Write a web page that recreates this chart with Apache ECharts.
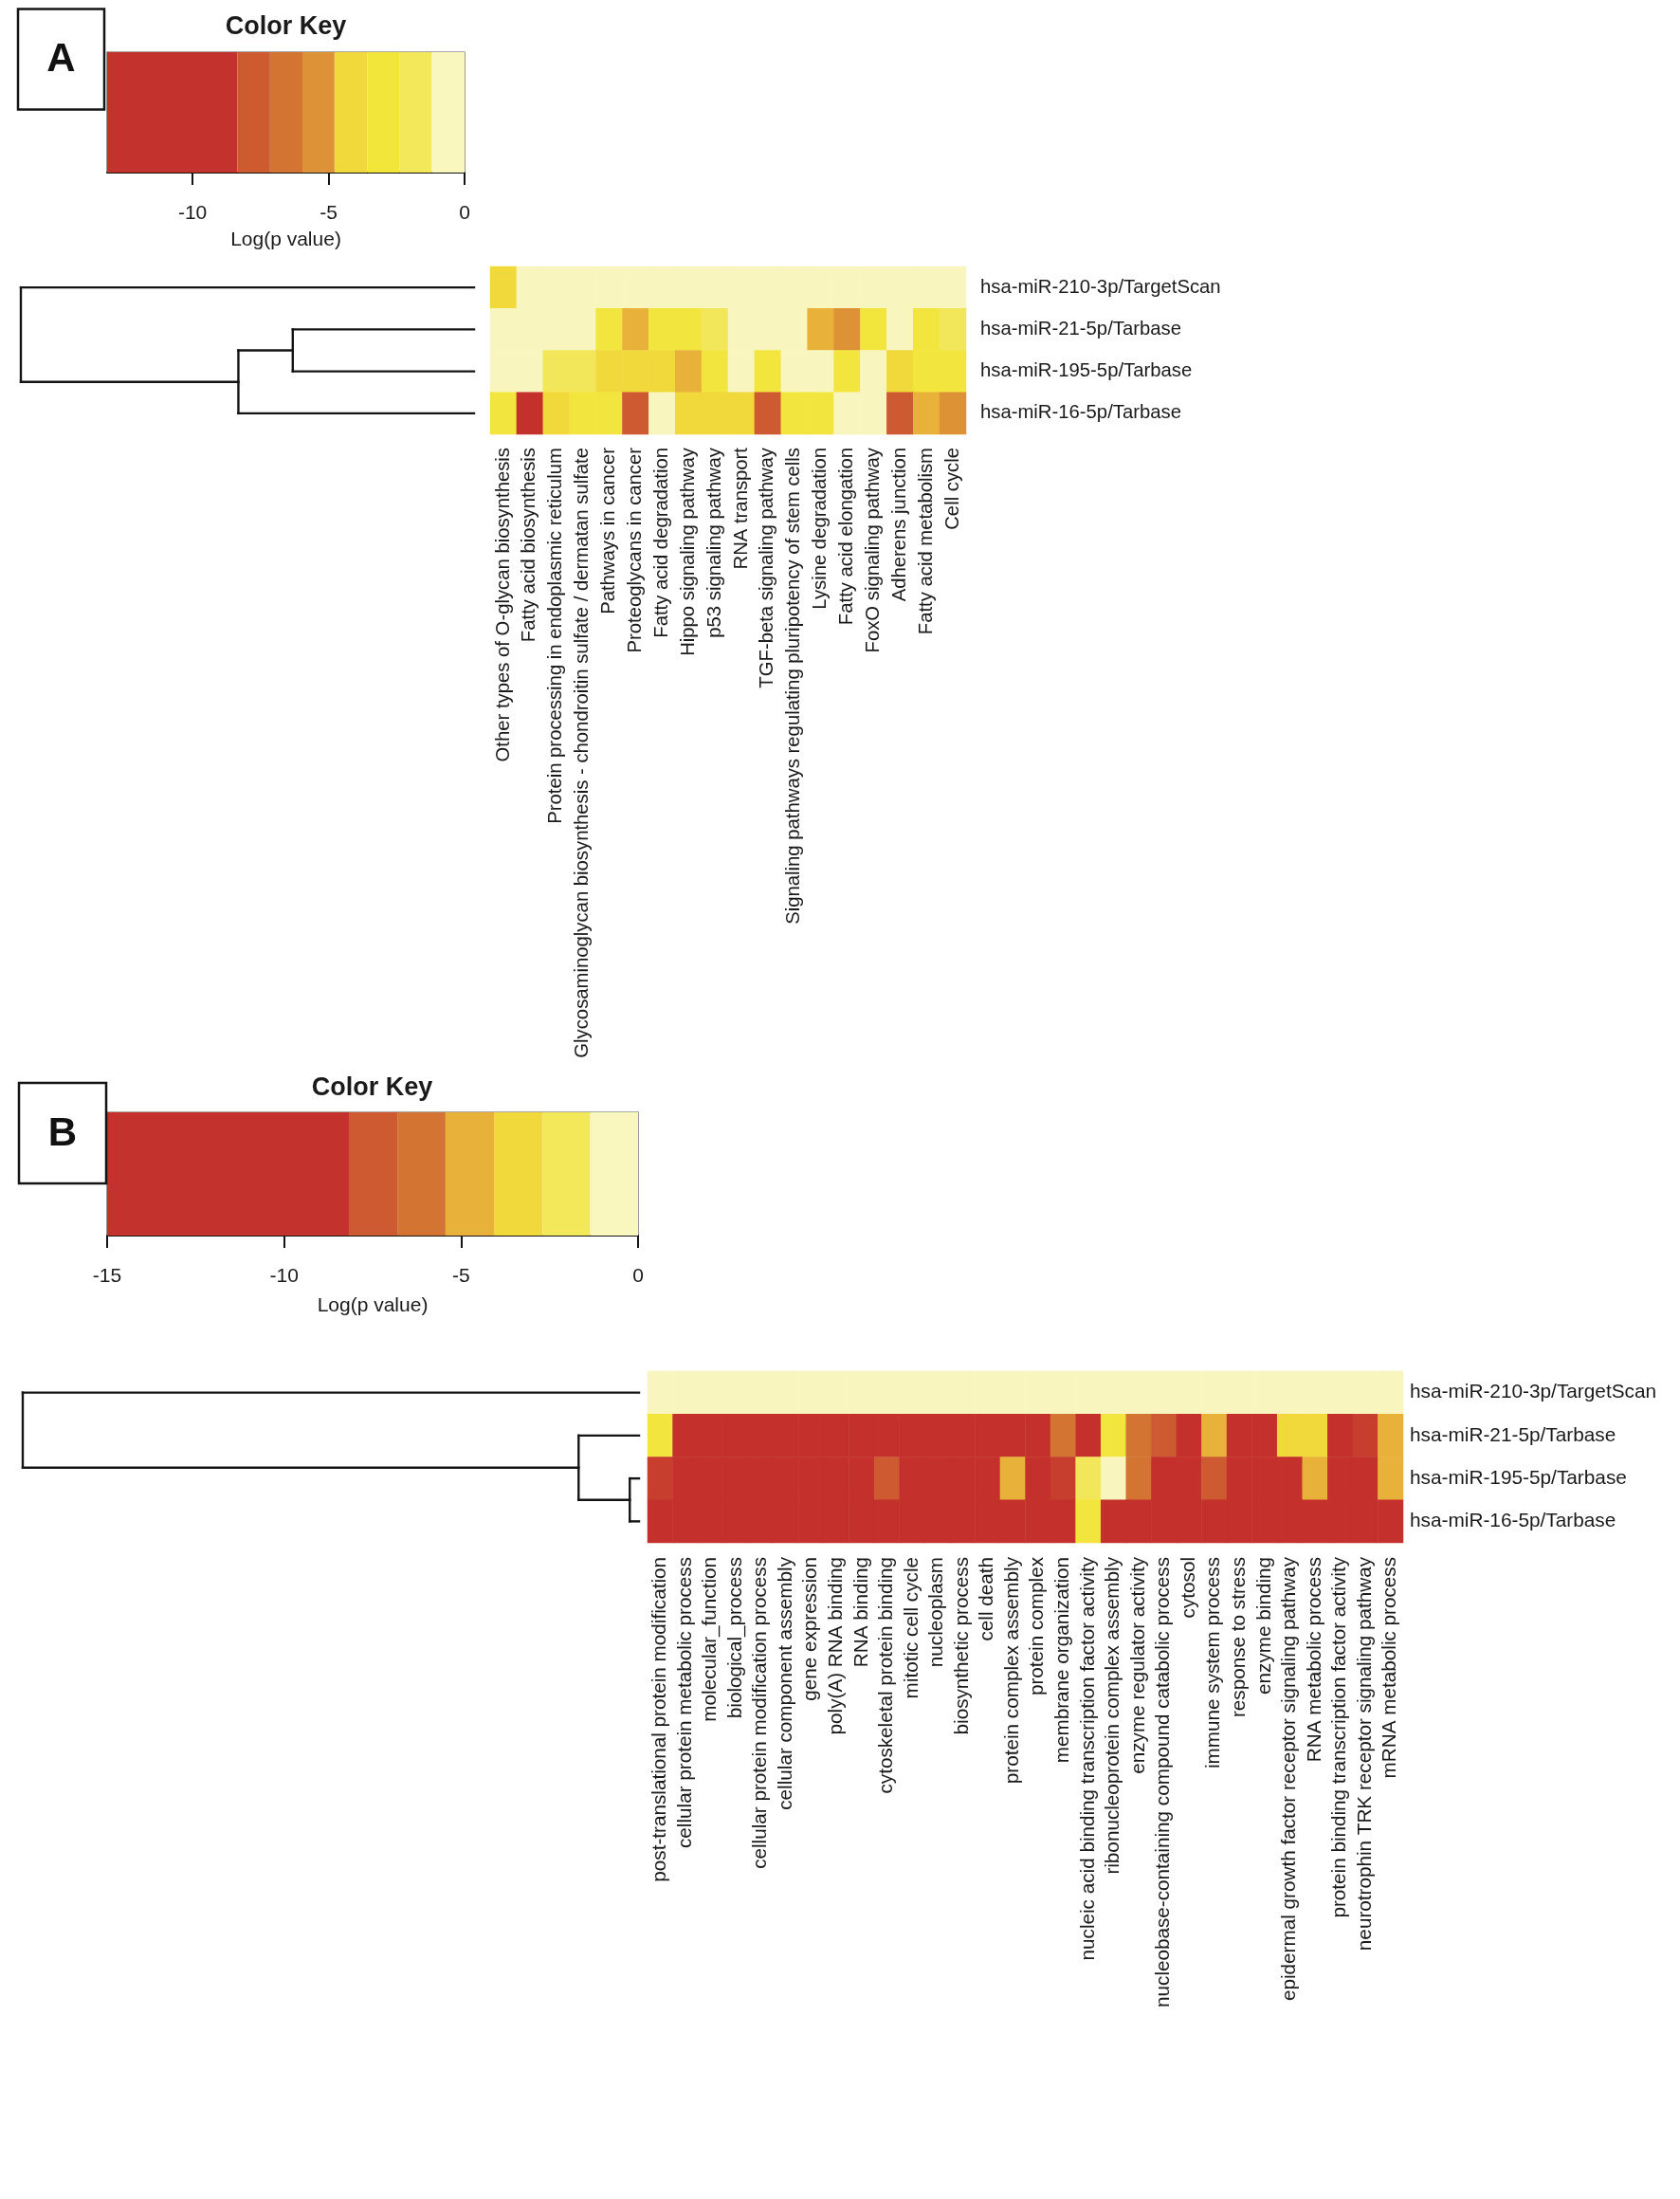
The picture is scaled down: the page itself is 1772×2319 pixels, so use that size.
<!DOCTYPE html>
<html>
<head>
<meta charset="utf-8">
<script src="https://cdn.jsdelivr.net/npm/echarts@6/dist/echarts.min.js"></script>
<style>html,body{margin:0;padding:0;background:#fff;}#c{width:1772px;height:2319px;}</style>
</head>
<body>
<div id="c"></div>
<script>
// ---------- DATA ----------
const rowNames = ['hsa-miR-210-3p/TargetScan', 'hsa-miR-21-5p/Tarbase', 'hsa-miR-195-5p/Tarbase', 'hsa-miR-16-5p/Tarbase'];

// Panel A (KEGG pathways)
const colsA = ['Other types of O-glycan biosynthesis', 'Fatty acid biosynthesis', 'Protein processing in endoplasmic reticulum',
  'Glycosaminoglycan biosynthesis - chondroitin sulfate / dermatan sulfate', 'Pathways in cancer', 'Proteoglycans in cancer',
  'Fatty acid degradation', 'Hippo signaling pathway', 'p53 signaling pathway', 'RNA transport', 'TGF-beta signaling pathway',
  'Signaling pathways regulating pluripotency of stem cells', 'Lysine degradation', 'Fatty acid elongation', 'FoxO signaling pathway',
  'Adherens junction', 'Fatty acid metabolism', 'Cell cycle'];
const valsA_210 = [-4.2, -0.4, -0.5, -0.3, -0.6, -0.5, -0.4, -0.3, -0.5, -0.6, -0.4, -0.5, -0.3, -0.4, -0.5, -0.6, -0.4, -0.3];
const valsA_21  = [-0.3, -0.5, -0.4, -0.6, -3.0, -5.0, -3.1, -2.9, -1.8, -0.5, -0.4, -0.6, -5.1, -5.7, -3.0, -0.5, -2.8, -1.9];
const valsA_195 = [-0.5, -0.4, -1.8, -1.7, -4.1, -4.3, -4.0, -5.0, -3.0, -0.6, -2.9, -0.4, -0.5, -3.1, -0.3, -4.2, -3.0, -2.9];
const valsA_16  = [-3.0, -10.6, -4.1, -3.2, -2.9, -7.8, -0.5, -4.2, -4.3, -4.0, -7.9, -3.0, -2.9, -0.4, -0.6, -7.7, -5.0, -5.7];

// Panel B (GO terms)
const colsB = ['post-translational protein modification', 'cellular protein metabolic process', 'molecular_function',
  'biological_process', 'cellular protein modification process', 'cellular component assembly', 'gene expression',
  'poly(A) RNA binding', 'RNA binding', 'cytoskeletal protein binding', 'mitotic cell cycle', 'nucleoplasm',
  'biosynthetic process', 'cell death', 'protein complex assembly', 'protein complex', 'membrane organization',
  'nucleic acid binding transcription factor activity', 'ribonucleoprotein complex assembly', 'enzyme regulator activity',
  'nucleobase-containing compound catabolic process', 'cytosol', 'immune system process', 'response to stress',
  'enzyme binding', 'epidermal growth factor receptor signaling pathway', 'RNA metabolic process',
  'protein binding transcription factor activity', 'neurotrophin TRK receptor signaling pathway', 'mRNA metabolic process'];
const valsB_210 = [-0.5, -0.4, -0.6, -0.5, -0.3, -0.4, -0.6, -0.5, -0.4, -0.3, -0.5, -0.6, -0.4, -0.5, -0.3,
                   -0.4, -0.6, -0.5, -0.4, -0.3, -0.5, -0.6, -0.4, -0.5, -0.3, -0.4, -0.6, -0.5, -0.4, -0.3];
const valsB_21  = [-3.0, -12.5, -13.8, -14.2, -12.0, -11.6, -12.9, -11.2, -11.8, -10.9, -11.4, -12.2, -11.0, -10.6, -10.2,
                   -9.6, -6.1, -10.4, -3.0, -6.0, -7.5, -10.8, -4.8, -11.5, -10.3, -3.7, -3.8, -9.8, -8.4, -4.9];
const valsB_195 = [-8.4, -12.8, -14.6, -15.0, -12.3, -11.9, -13.1, -11.7, -12.0, -7.5, -11.3, -12.5, -10.9, -10.4, -4.8,
                   -9.9, -8.4, -2.0, -0.6, -6.2, -10.1, -11.0, -7.4, -11.6, -10.7, -9.4, -4.7, -10.0, -9.2, -4.8];
const valsB_16  = [-11.9, -13.5, -14.8, -15.0, -12.9, -12.1, -13.4, -12.4, -12.7, -11.1, -12.0, -12.9, -11.8, -11.3, -10.9,
                   -10.5, -10.0, -3.0, -10.6, -9.6, -11.2, -12.3, -10.1, -12.0, -11.4, -10.9, -10.3, -11.7, -10.8, -9.9];

// Colour keys (breaks on the Log(p value) scale and band colours)
const keyA_breaks = [-13.14, -8.35, -7.15, -5.96, -4.78, -3.57, -2.38, -1.2, 0];
const keyA_colors = ['#C4322D', '#CE5B30', '#D47433', '#DE9238', '#F1D83B', '#F2E63B', '#F2E85A', '#F9F7BE'];
const keyA_ticks = [-10, -5, 0];
const keyB_breaks = [-15, -8.17, -6.8, -5.44, -4.07, -2.7, -1.35, 0];
const keyB_colors = ['#C4322D', '#CD5A30', '#D47433', '#E8B23A', '#F1D83B', '#F2E85A', '#F9F7BE'];
const keyB_ticks = [-15, -10, -5, 0];

// Cell colour mapping used in the heat maps
const cellA_breaks = [-99, -8.35, -7.15, -5.96, -5.37, -4.78, -3.57, -2.38, -1.2, 0.01];
const cellA_colors = ['#C4302B', '#CD5A30', '#D47433', '#DD9236', '#E8B23A', '#F1D83B', '#F2E63E', '#F2E65A', '#F8F6BE'];
const cellB_breaks = [-99, -8.6, -8.17, -6.8, -5.44, -4.07, -3.4, -2.7, -1.35, 0.01];
const cellB_colors = ['#C4302B', '#C73D2E', '#CD5A30', '#D47433', '#E8B23A', '#F1D83B', '#F2E63E', '#F2E65A', '#F8F6BE'];

// Dendrograms (R-style merge matrix: negative = leaf in display order, positive = earlier merge)
const dendA_merge = [[-2, -3], [1, -4], [-1, 2]];
const dendA_height = [0.40, 0.52, 1.00];
const dendB_merge = [[-3, -4], [-2, 1], [-1, 2]];
const dendB_height = [0.015, 0.098, 1.00];

// ---------- BUILD ----------
const FONT = "'Liberation Sans', Arial, Helvetica, sans-serif";
const TXT = '#1a1a1a';

function heatData(rows) {
  const out = [];
  rows.forEach((r, ri) => r.forEach((v, ci) => out.push([ci, ri, v])));
  return out;
}
function pieces(breaks, colors) {
  return colors.map((c, i) => ({ gte: breaks[i], lt: breaks[i + 1], color: c }));
}
function bands(breaks) {
  const out = [];
  for (let i = 0; i < breaks.length - 1; i++) out.push([breaks[i], breaks[i + 1], i]);
  return out;
}
function dendSegments(merge, height) {
  const nodes = [];
  const segs = [];
  function info(ref) {
    if (ref < 0) return { x: 0, y: -ref - 1 };
    return nodes[ref - 1];
  }
  merge.forEach((m, i) => {
    const a = info(m[0]), b = info(m[1]), h = height[i];
    segs.push([a.x, a.y, h, a.y]);
    segs.push([b.x, b.y, h, b.y]);
    segs.push([h, a.y, h, b.y]);
    nodes.push({ x: h, y: (a.y + b.y) / 2 });
  });
  return segs;
}

function keyRender(colors) {
  return function (params, api) {
    const p0 = api.coord([api.value(0), 1]);
    const p1 = api.coord([api.value(1), 0]);
    return {
      type: 'rect',
      shape: { x: p0[0], y: p0[1], width: p1[0] - p0[0], height: p1[1] - p0[1] },
      style: { fill: colors[api.value(2)], stroke: null }
    };
  };
}
function dendRender(params, api) {
  const p0 = api.coord([api.value(0), api.value(1)]);
  const p1 = api.coord([api.value(2), api.value(3)]);
  return {
    type: 'line',
    shape: { x1: p0[0], y1: p0[1], x2: p1[0], y2: p1[1] },
    style: { stroke: '#141414', lineWidth: 2.4, lineCap: 'square' }
  };
}

function keyXAxis(gi, min, ticks, nameGap) {
  return {
    gridIndex: gi, type: 'value', min: min, max: 0,
    axisLine: { show: true, onZero: false, lineStyle: { color: '#141414', width: 2 } },
    axisTick: { show: true, length: 13, lineStyle: { color: '#141414', width: 2 }, customValues: ticks },
    axisLabel: { show: true, margin: 33, fontSize: 21, color: TXT, fontFamily: FONT, customValues: ticks },
    splitLine: { show: false },
    name: 'Log(p value)', nameLocation: 'middle', nameGap: nameGap,
    nameTextStyle: { fontSize: 21, color: TXT, fontFamily: FONT }
  };
}
function heatXAxis(gi, cols, margin, fs) {
  return {
    gridIndex: gi, type: 'category', data: cols, position: 'bottom',
    axisLine: { show: false }, axisTick: { show: false }, splitLine: { show: false },
    axisLabel: { interval: 0, rotate: 90, margin: margin, fontSize: fs, color: TXT, fontFamily: FONT }
  };
}
function heatYAxis(gi, margin, fs) {
  return {
    gridIndex: gi, type: 'category', data: rowNames, inverse: true, position: 'right',
    axisLine: { show: false }, axisTick: { show: false }, splitLine: { show: false },
    axisLabel: { interval: 0, margin: margin, fontSize: fs, color: TXT, fontFamily: FONT }
  };
}
const hiddenVal = (gi, min, max, inv) => ({ gridIndex: gi, type: 'value', min: min, max: max, inverse: !!inv, show: false,
  axisLine: { show: false }, axisTick: { show: false }, axisLabel: { show: false }, splitLine: { show: false } });

const chart = echarts.init(document.getElementById('c'), null, { renderer: 'canvas' });
chart.setOption({
  backgroundColor: '#ffffff',
  animation: false,
  textStyle: { fontFamily: FONT },
  grid: [
    { left: 113, top: 55, width: 377, height: 127, show: true, borderColor: '#555', borderWidth: 1.2, backgroundColor: 'transparent', outerBoundsMode: 'none', containLabel: false },
    { left: 517, top: 281, width: 502, height: 177, outerBoundsMode: 'none', containLabel: false },
    { left: 22, top: 281, width: 478, height: 177, outerBoundsMode: 'none', containLabel: false },
    { left: 113, top: 1173, width: 560, height: 130, show: true, borderColor: '#555', borderWidth: 1.2, backgroundColor: 'transparent', outerBoundsMode: 'none', containLabel: false },
    { left: 683, top: 1446, width: 797, height: 181, outerBoundsMode: 'none', containLabel: false },
    { left: 24, top: 1446, width: 650, height: 181, outerBoundsMode: 'none', containLabel: false }
  ],
  xAxis: [
    keyXAxis(0, keyA_breaks[0], keyA_ticks, 61),
    heatXAxis(1, colsA, 14, 20.3),
    hiddenVal(2, 0, 1, true),
    keyXAxis(3, keyB_breaks[0], keyB_ticks, 64),
    heatXAxis(4, colsB, 15, 20.7),
    hiddenVal(5, 0, 1, true)
  ],
  yAxis: [
    hiddenVal(0, 0, 1),
    heatYAxis(1, 15, 20.3),
    hiddenVal(2, -0.5, 3.5, true),
    hiddenVal(3, 0, 1),
    heatYAxis(4, 7, 20.8),
    hiddenVal(5, -0.5, 3.5, true)
  ],
  visualMap: [
    { type: 'piecewise', show: false, seriesIndex: 1, dimension: 2, pieces: pieces(cellA_breaks, cellA_colors) },
    { type: 'piecewise', show: false, seriesIndex: 4, dimension: 2, pieces: pieces(cellB_breaks, cellB_colors) }
  ],
  series: [
    { type: 'custom', xAxisIndex: 0, yAxisIndex: 0, data: bands(keyA_breaks), renderItem: keyRender(keyA_colors), silent: true, z: 1 },
    { type: 'heatmap', xAxisIndex: 1, yAxisIndex: 1, data: heatData([valsA_210, valsA_21, valsA_195, valsA_16]),
      itemStyle: { borderWidth: 0 }, emphasis: { disabled: true }, progressive: 0, silent: true },
    { type: 'custom', xAxisIndex: 2, yAxisIndex: 2, data: dendSegments(dendA_merge, dendA_height), renderItem: dendRender, silent: true },
    { type: 'custom', xAxisIndex: 3, yAxisIndex: 3, data: bands(keyB_breaks), renderItem: keyRender(keyB_colors), silent: true, z: 1 },
    { type: 'heatmap', xAxisIndex: 4, yAxisIndex: 4, data: heatData([valsB_210, valsB_21, valsB_195, valsB_16]),
      itemStyle: { borderWidth: 0 }, emphasis: { disabled: true }, progressive: 0, silent: true },
    { type: 'custom', xAxisIndex: 5, yAxisIndex: 5, data: dendSegments(dendB_merge, dendB_height), renderItem: dendRender, silent: true }
  ],
  graphic: [
    { type: 'rect', shape: { x: 19, y: 9.5, width: 91, height: 106 }, style: { fill: '#fff', stroke: '#141414', lineWidth: 2.5 }, z: 10 },
    { type: 'text', x: 64.5, y: 63, style: { text: 'A', font: 'bold 42px ' + FONT, fill: '#111', align: 'center', verticalAlign: 'middle' }, z: 11 },
    { type: 'text', x: 301.5, y: 29, style: { text: 'Color Key', font: 'bold 27px ' + FONT, fill: '#1a1a1a', align: 'center', verticalAlign: 'middle' }, z: 11 },
    { type: 'rect', shape: { x: 20, y: 1142, width: 92, height: 106 }, style: { fill: '#fff', stroke: '#141414', lineWidth: 2.5 }, z: 10 },
    { type: 'text', x: 66, y: 1196, style: { text: 'B', font: 'bold 42px ' + FONT, fill: '#111', align: 'center', verticalAlign: 'middle' }, z: 11 },
    { type: 'text', x: 392.5, y: 1148, style: { text: 'Color Key', font: 'bold 27px ' + FONT, fill: '#1a1a1a', align: 'center', verticalAlign: 'middle' }, z: 11 }
  ]
});
</script>
</body>
</html>
